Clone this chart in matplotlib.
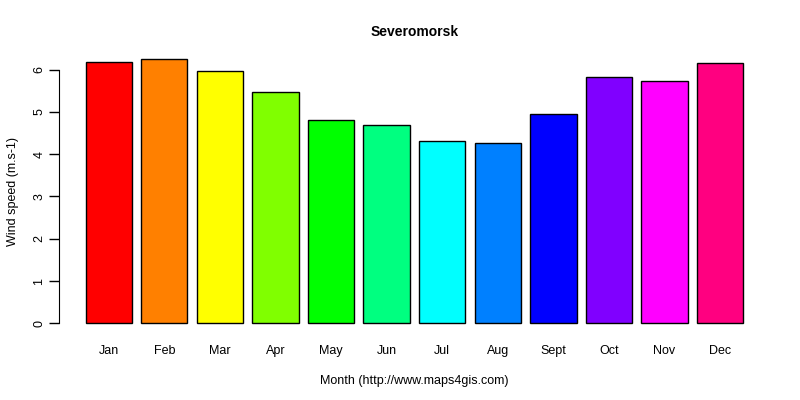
import numpy as np
import matplotlib
matplotlib.use("Agg")
import matplotlib.pyplot as plt

months = ["Jan", "Feb", "Mar", "Apr", "May", "Jun", "Jul", "Aug", "Sept", "Oct", "Nov", "Dec"]
wind = [6.17, 6.24, 5.96, 5.46, 4.80, 4.68, 4.30, 4.26, 4.94, 5.82, 5.74, 6.15]
colors = ["#FF0000", "#FF8000", "#FFFF00", "#80FF00", "#00FF00", "#00FF80",
          "#00FFFF", "#0080FF", "#0000FF", "#8000FF", "#FF00FF", "#FF0080"]
yticks = [0, 1, 2, 3, 4, 5, 6]

plt.rcParams['font.family'] = ['Liberation Sans', 'DejaVu Sans']

fig = plt.figure(figsize=(8, 4), dpi=100)
ax = fig.add_axes([0.074, 0.165, 0.888, 0.713])

# R barplot layout: width 1, space 0.2
x = 0.2 + 1.2 * np.arange(len(months)) + 0.5
ax.bar(x, wind, width=1.0, color=colors, edgecolor="black", linewidth=1.0)

xmin, xmax = 0.2, 0.2 + 1.2 * len(months) - 0.2
pad = 0.04 * (xmax - xmin)
ax.set_xlim(xmin - pad, xmax + pad)
ymax = max(wind)
ax.set_ylim(-0.04 * ymax, ymax * 1.04)

for s in ["top", "right", "bottom"]:
    ax.spines[s].set_visible(False)
ax.spines["left"].set_bounds(0, 6)

ax.set_yticks(yticks)
ax.set_yticklabels([str(t) for t in yticks], rotation=90, va="center", fontsize=9)
ax.tick_params(axis="y", length=7, width=1, pad=3)
ax.set_xticks(x)
ax.set_xticklabels(months, fontsize=9)
ax.tick_params(axis="x", length=0, pad=8)

ax.set_xlabel("Month (http://www.maps4gis.com)", fontsize=9, labelpad=13)
ax.set_ylabel("Wind speed (m.s-1)", fontsize=9, labelpad=10)
ax.set_title("Severomorsk", fontsize=10, fontweight="bold", pad=9)

fig.savefig("out.png", dpi=100)
